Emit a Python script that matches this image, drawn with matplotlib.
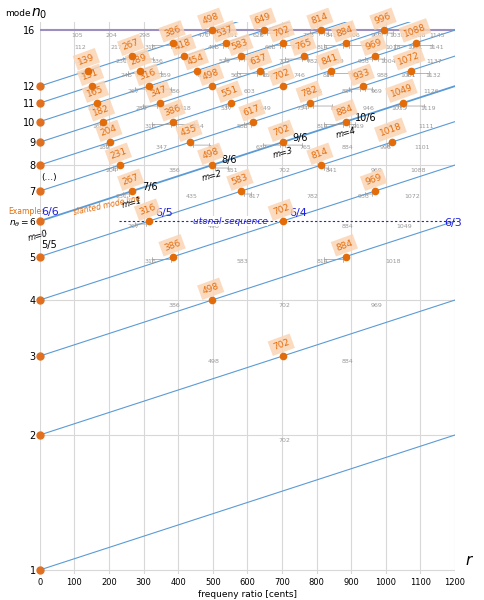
import numpy as np
import matplotlib
matplotlib.use("Agg")
import matplotlib.pyplot as plt

modes_left = list(range(1, 13))      # slanted mode lines starting at x=0
max_mode = 16
ytick_vals = [1, 2, 3, 4, 5, 6, 7, 8, 9, 10, 11, 12, 16]
xticks = list(range(0, 1201, 100))

def cents(a, b):
    return 1200 * np.log2(a / b)

fig = plt.figure(figsize=(4.85, 6.0), dpi=100)
ax = fig.add_axes([0.082, 0.0433, 0.856, 0.92])
ax.set_yscale('log', base=2)
ax.set_xlim(0, 1200)
ax.set_ylim(2 ** -0.03, 2 ** 4.06)
for s in ax.spines.values():
    s.set_visible(False)
ax.set_yticks(ytick_vals)
ax.set_yticklabels(['' if v == 6 else str(v) for v in ytick_vals], fontsize=7)
ax.yaxis.set_minor_locator(matplotlib.ticker.NullLocator())
ax.set_xticks(xticks)
ax.set_xticklabels([str(v) for v in xticks], fontsize=6)
ax.tick_params(length=0, pad=3)
for x in xticks:
    ax.axvline(x, color='#d8d8d8', lw=0.8, zorder=0)
for y in [1, 2, 4, 8]:
    ax.axhline(y, color='#d8d8d8', lw=0.8, zorder=0)
ax.axhline(16, color='#9b8fc0', lw=1.5, zorder=1)
ax.set_xlabel('frequeny ratio [cents]', fontsize=6.5, labelpad=2)

# slanted mode lines
xs = np.linspace(0, 1200, 50)
for n in modes_left:
    ys = n * 2 ** (xs / 1200)
    lw = 1.3 if n == 6 else 0.8
    ax.plot(xs, ys, color='#5b9bd5', lw=lw, zorder=2, clip_on=True)
    ax.plot(0, n, 'o', ms=5, color='#e07020', zorder=5, clip_on=False)

orange = '#e36c0a'
peach = '#fbd5b5'
# orange dots: ratio m/n on mode line n
orange_pos = {}
for n in range(2, 13):
    for m in range(n + 1, min(2 * n, max_mode + 1)):
        c = cents(m, n)
        orange_pos.setdefault(m, []).append(c)
        ax.plot(c, m, 'o', ms=4.5, color=orange, zorder=6)
        ax.annotate(f'{c:.0f}', (c, m), xytext=(-1, 3), textcoords='offset points',
                    ha='center', va='bottom', fontsize=6.5, color=orange, rotation=20,
                    zorder=5,
                    bbox=dict(boxstyle='square,pad=0.35', fc=peach, ec='none', alpha=0.85))

# grey labels: ratios k/m on row m
grey = '#999999'
for m in range(2, 17):
    for k in range(m + 1, 2 * m):
        c = cents(k, m)
        if c > 1200:
            continue
        ops = orange_pos.get(m, [])
        if any(abs(c - o) < 3 for o in ops):
            continue
        ax.annotate(f'{c:.0f}', (c, m), xytext=(1, -2), textcoords='offset points',
                    ha='center', va='top', fontsize=4.5, color=grey, zorder=3)
        if ops:
            o = min(ops, key=lambda v: abs(v - c))
            if abs(o - c) < 80:
                ax.annotate('', xy=(c, m * 0.985), xytext=(o, m * 0.985),
                            arrowprops=dict(arrowstyle='|-|,widthA=0.15,widthB=0.15',
                                            color=grey, lw=0.5), zorder=3)

# annotations
blue = '#1f1fe0'
ax.plot([230, 1200], [6, 6], ls=(0, (2, 2)), color=blue, lw=0.8, zorder=4)
ax.text(-92, 6.3, 'Example:', fontsize=5.5, color=orange, va='center', clip_on=False)
ax.text(3, 6.3, '6/6', fontsize=8, color=blue, va='center')
ax.text(95, 6.5, 'slanted mode line', fontsize=5.5, color=orange, rotation=12,
        va='center', style='italic')
ax.text(335, 6.1, '6/5', fontsize=8, color=blue, va='bottom')
ax.text(722, 6.1, '6/4', fontsize=8, color=blue, va='bottom')
ax.text(1170, 5.95, '6/3', fontsize=8, color=blue, va='center', clip_on=False)
ax.text(550, 6.0, 'utonal sequence', fontsize=6.5, color=blue, style='italic',
        ha='center', va='center', bbox=dict(fc='white', ec='none', pad=0.5))
ax.text(-90, 5.95, r'$n_{\theta}=6$', fontsize=6.5, va='center', clip_on=False)
for x, y, t in [(-5, 5.55, 'm=0'), (267, 6.6, 'm=1'), (498, 7.55, 'm=2'),
                (702, 8.5, 'm=3'), (884, 9.45, 'm=4')]:
    ax.text(x, y, t, fontsize=6, style='italic', rotation=15, va='center', ha='center',
            clip_on=False)
for x, y, t in [(0, 5.3, '5/5'), (290, 7.15, '7/6'), (520, 8.2, '8/6'),
                (725, 9.2, '9/6'), (905, 10.2, '10/6')]:
    ax.text(x + 5, y, t, fontsize=7, va='center')
ax.text(5, 7.5, '(...)', fontsize=6.5, va='center')
ax.text(-100, 2 ** 4.12, 'mode', fontsize=6.5, va='center', clip_on=False)
ax.text(-25, 2 ** 4.12, r'$n_0$', fontsize=10, va='center', clip_on=False)
ax.text(1230, 1.05, r'$r$', fontsize=11, va='center', clip_on=False)

fig.savefig('out.png', dpi=100)
